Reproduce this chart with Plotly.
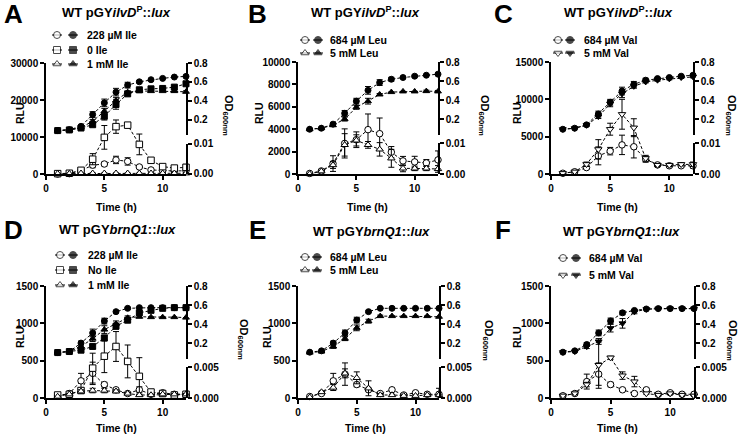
import plotly.graph_objects as go

W, H = 740, 436
FONT = "Arial, Liberation Sans, sans-serif"

time_h = [1, 2, 3, 4, 5, 6, 7, 8, 9, 10, 11, 12]

# ---- A: WT pGYilvDP::lux, isoleucine
a_rlu_228 = [0, 100, 900, 2400, 2700, 3800, 3400, 1900, 1100, 900, 800, 900]
a_rlu_228_err = [0, 0, 300, 700, 500, 1000, 1000, 300, 200, 200, 100, 300]
a_rlu_0 = [100, 200, 1000, 4000, 9900, 12800, 13200, 8000, 3700, 2000, 1600, 1800]
a_rlu_0_err = [0, 0, 300, 1500, 3200, 1800, 0, 2800, 300, 300, 400, 800]
a_rlu_1mm = [100, 100, 200, 200, 200, 200, 200, 200, 200, 200, 200, 200]
a_rlu_1mm_err = [0, 0, 0, 100, 100, 100, 0, 0, 0, 0, 0, 0]
a_od_228 = [0.088, 0.098, 0.133, 0.257, 0.380, 0.493, 0.567, 0.602, 0.624, 0.638, 0.652, 0.659]
a_od_228_err = [0, 0, 0.01, 0.03, 0.04, 0.04, 0.03, 0.01, 0, 0, 0, 0]
a_od_0 = [0.088, 0.095, 0.115, 0.150, 0.239, 0.363, 0.475, 0.518, 0.528, 0.532, 0.546, 0.581]
a_od_0_err = [0, 0, 0.01, 0.02, 0.04, 0.05, 0.02, 0.01, 0.01, 0.01, 0.01, 0]
a_od_1mm = [0.088, 0.095, 0.120, 0.186, 0.292, 0.405, 0.493, 0.504, 0.504, 0.504, 0.504, 0.497]
a_od_1mm_err = [0, 0, 0.01, 0.02, 0.03, 0.03, 0.01, 0, 0, 0, 0.01, 0.01]

# ---- B: WT pGYilvDP::lux, leucine
b_rlu_684 = [50, 270, 930, 2730, 3060, 3960, 3600, 1950, 1170, 1080, 990, 1260]
b_rlu_684_err = [0, 0, 700, 1300, 700, 1400, 1400, 500, 400, 500, 300, 800]
b_rlu_5 = [0, 250, 800, 2600, 3000, 2600, 2200, 1400, 500, 500, 500, 450]
b_rlu_5_err = [0, 0, 300, 1000, 500, 300, 600, 800, 300, 200, 200, 300]
b_od_684 = [0.098, 0.109, 0.151, 0.264, 0.391, 0.504, 0.585, 0.620, 0.638, 0.652, 0.662, 0.673]
b_od_684_err = [0, 0, 0.01, 0.03, 0.03, 0.04, 0.03, 0.02, 0.01, 0.01, 0, 0.01]
b_od_5 = [0.098, 0.109, 0.140, 0.204, 0.327, 0.391, 0.461, 0.486, 0.493, 0.493, 0.496, 0.493]
b_od_5_err = [0, 0, 0.01, 0.02, 0.02, 0.03, 0.01, 0, 0, 0, 0.01, 0.01]

# ---- C: WT pGYilvDP::lux, valine
c_rlu_684 = [100, 300, 860, 2430, 3060, 3900, 3650, 1980, 1220, 1100, 1100, 1100]
c_rlu_684_err = [0, 0, 200, 1200, 500, 1300, 1500, 400, 200, 200, 200, 300]
c_rlu_5 = [100, 300, 1300, 3300, 6000, 8000, 6200, 2100, 1200, 1200, 1300, 1300]
c_rlu_5_err = [0, 0, 300, 1300, 800, 2000, 1200, 400, 200, 200, 200, 300]
c_od_684 = [0.098, 0.109, 0.144, 0.257, 0.380, 0.497, 0.567, 0.610, 0.627, 0.638, 0.652, 0.662]
c_od_684_err = [0, 0, 0.01, 0.03, 0.03, 0.04, 0.03, 0.02, 0.01, 0.01, 0.01, 0.01]
c_od_5 = [0.098, 0.108, 0.140, 0.230, 0.363, 0.468, 0.546, 0.592, 0.610, 0.624, 0.638, 0.645]
c_od_5_err = [0, 0, 0.01, 0.02, 0.03, 0.04, 0.02, 0.01, 0.01, 0.01, 0.01, 0.01]

# ---- D: WT pGYbrnQ1::lux, isoleucine
d_rlu_228 = [30, 60, 230, 330, 180, 110, 60, 110, 50, 70, 50, 50]
d_rlu_228_err = [0, 10, 100, 150, 30, 20, 10, 40, 10, 10, 10, 10]
d_rlu_0 = [40, 50, 100, 400, 560, 690, 490, 290, 80, 60, 40, 50]
d_rlu_0_err = [0, 10, 40, 200, 220, 200, 220, 250, 30, 20, 10, 10]
d_rlu_1mm = [20, 50, 90, 100, 100, 90, 60, 40, 40, 50, 50, 50]
d_rlu_1mm_err = [0, 10, 20, 30, 30, 20, 10, 10, 10, 10, 10, 10]
d_od_228 = [0.105, 0.116, 0.204, 0.310, 0.434, 0.532, 0.567, 0.574, 0.574, 0.574, 0.574, 0.574]
d_od_228_err = [0, 0, 0.02, 0.04, 0.03, 0.01, 0.01, 0, 0, 0, 0, 0]
d_od_0 = [0.105, 0.116, 0.130, 0.169, 0.257, 0.380, 0.443, 0.520, 0.546, 0.567, 0.574, 0.574]
d_od_0_err = [0, 0, 0.01, 0.02, 0.03, 0.03, 0.02, 0.01, 0.01, 0, 0, 0]
d_od_1mm = [0.105, 0.116, 0.169, 0.250, 0.345, 0.405, 0.468, 0.479, 0.475, 0.475, 0.475, 0.470]
d_od_1mm_err = [0, 0, 0.02, 0.03, 0.04, 0.03, 0.02, 0.01, 0, 0, 0, 0]

# ---- E: WT pGYbrnQ1::lux, leucine
e_rlu_684 = [20, 60, 230, 320, 180, 110, 60, 110, 40, 70, 50, 50]
e_rlu_684_err = [0, 10, 100, 150, 30, 20, 10, 20, 10, 10, 10, 10]
e_rlu_5 = [10, 80, 140, 330, 270, 130, 40, 40, 30, 30, 40, 40]
e_rlu_5_err = [0, 10, 40, 60, 80, 100, 20, 10, 10, 10, 10, 90]
e_od_684 = [0.109, 0.123, 0.204, 0.310, 0.444, 0.532, 0.567, 0.567, 0.567, 0.567, 0.567, 0.567]
e_od_684_err = [0, 0, 0.02, 0.03, 0.03, 0.01, 0, 0, 0, 0, 0, 0]
e_od_5 = [0.105, 0.116, 0.169, 0.250, 0.363, 0.433, 0.486, 0.486, 0.486, 0.486, 0.486, 0.479]
e_od_5_err = [0, 0, 0.02, 0.02, 0.03, 0.02, 0.01, 0, 0, 0, 0, 0]

# ---- F: WT pGYbrnQ1::lux, valine
f_rlu_684 = [30, 60, 220, 320, 180, 110, 60, 110, 50, 70, 50, 50]
f_rlu_684_err = [0, 10, 100, 150, 30, 20, 10, 20, 10, 10, 10, 10]
f_rlu_5 = [30, 60, 180, 440, 540, 300, 220, 60, 40, 60, 40, 30]
f_rlu_5_err = [0, 10, 30, 310, 20, 50, 70, 10, 10, 10, 10, 10]
f_od_684 = [0.109, 0.123, 0.189, 0.310, 0.435, 0.520, 0.545, 0.560, 0.564, 0.564, 0.564, 0.564]
f_od_684_err = [0, 0, 0.02, 0.03, 0.03, 0.02, 0.01, 0, 0, 0, 0, 0]
f_od_5 = [0.109, 0.116, 0.167, 0.221, 0.360, 0.410, 0.530, 0.557, 0.564, 0.564, 0.564, 0.564]
f_od_5_err = [0, 0, 0.02, 0.03, 0.04, 0.05, 0.02, 0, 0, 0, 0, 0]

TITLE_ILVD = "<b>WT pGY<i>ilvD</i><sup>P</sup>::<i>lux</i></b>"
TITLE_BRNQ = "<b>WT pGY<i>brnQ1</i>::<i>lux</i></b>"

panels = [
    dict(letter="A", box=(46, 63, 186, 174), title=TITLE_ILVD,
         rlu_ticks=[0, 10000, 20000, 30000], od_low=0.01, low_text=["0.00", "0.01"],
         series=[("228 µM Ile", "circle", a_rlu_228, a_rlu_228_err, a_od_228, a_od_228_err),
                 ("0 Ile", "square", a_rlu_0, a_rlu_0_err, a_od_0, a_od_0_err),
                 ("1 mM Ile", "triangle-up", a_rlu_1mm, a_rlu_1mm_err, a_od_1mm, a_od_1mm_err)],
         leg=([35, 50, 64], 57, 73, 85), letter_xy=(13, 14), title_xy=(116, 12),
         rlu_xy=(20, 113), od_xy=(228, 115), time_xy=(116, 207)),
    dict(letter="B", box=(298, 62, 438, 174), title=TITLE_ILVD,
         rlu_ticks=[0, 2000, 4000, 6000, 8000, 10000], od_low=0.01, low_text=["0.00", "0.01"],
         series=[("684 µM Leu", "circle", b_rlu_684, b_rlu_684_err, b_od_684, b_od_684_err),
                 ("5 mM Leu", "triangle-up", b_rlu_5, b_rlu_5_err, b_od_5, b_od_5_err)],
         leg=([40, 53], 305, 318, 328), letter_xy=(257, 14), title_xy=(365, 12),
         rlu_xy=(259, 113), od_xy=(484, 115), time_xy=(367, 207)),
    dict(letter="C", box=(551, 62, 693, 174), title=TITLE_ILVD,
         rlu_ticks=[0, 5000, 10000, 15000], od_low=0.01, low_text=["0.00", "0.01"],
         series=[("684 µM Val", "circle", c_rlu_684, c_rlu_684_err, c_od_684, c_od_684_err),
                 ("5 mM Val", "triangle-down", c_rlu_5, c_rlu_5_err, c_od_5, c_od_5_err)],
         leg=([40, 53], 558, 570, 582), letter_xy=(503, 14), title_xy=(618, 12),
         rlu_xy=(517, 113), od_xy=(731, 115), time_xy=(617, 207)),
    dict(letter="D", box=(46, 286, 186, 398), title=TITLE_BRNQ,
         rlu_ticks=[0, 500, 1000, 1500], od_low=0.005, low_text=["0.000", "0.005"],
         series=[("228 µM Ile", "circle", d_rlu_228, d_rlu_228_err, d_od_228, d_od_228_err),
                 ("No Ile", "square", d_rlu_0, d_rlu_0_err, d_od_0, d_od_0_err),
                 ("1 mM Ile", "triangle-up", d_rlu_1mm, d_rlu_1mm_err, d_od_1mm, d_od_1mm_err)],
         leg=([255, 270, 285], 60, 73, 86), letter_xy=(13, 230), title_xy=(117, 230),
         rlu_xy=(20, 337), od_xy=(243, 340), time_xy=(116, 428)),
    dict(letter="E", box=(298, 286, 439, 398), title=TITLE_BRNQ,
         rlu_ticks=[0, 500, 1000, 1500], od_low=0.005, low_text=["0.000", "0.005"],
         series=[("684 µM Leu", "circle", e_rlu_684, e_rlu_684_err, e_od_684, e_od_684_err),
                 ("5 mM Leu", "triangle-up", e_rlu_5, e_rlu_5_err, e_od_5, e_od_5_err)],
         leg=([257, 270], 305, 317, 328), letter_xy=(257, 230), title_xy=(371, 231),
         rlu_xy=(267, 337), od_xy=(488, 340), time_xy=(365, 428)),
    dict(letter="F", box=(551, 286, 694, 398), title=TITLE_BRNQ,
         rlu_ticks=[0, 500, 1000, 1500], od_low=0.005, low_text=["0.000", "0.005"],
         series=[("684 µM Val", "circle", f_rlu_684, f_rlu_684_err, f_od_684, f_od_684_err),
                 ("5 mM Val", "triangle-down", f_rlu_5, f_rlu_5_err, f_od_5, f_od_5_err)],
         leg=([258, 275], 563, 576, 587), letter_xy=(503, 230), title_xy=(621, 231),
         rlu_xy=(517, 337), od_xy=(732, 340), time_xy=(617, 428)),
]

OD_UP_RANGE = [0.04, 0.8]
OD_UP_TICKS = [0.2, 0.4, 0.6, 0.8]
UP_FRAC = 0.35     # upper OD segment starts here (fraction of plot height)
LOW_FRAC = 0.273   # lower OD segment ends here


def ref(letter, n):
    return letter if n == 1 else f"{letter}{n}"


def key(letter, n):
    return f"{letter}axis" if n == 1 else f"{letter}axis{n}"


tick_font = dict(family=FONT, size=10, color="black", weight="bold")
axis_common = dict(showline=True, linecolor="black", linewidth=1.5, ticks="outside",
                   tickcolor="black", tickwidth=1.5, ticklen=4, showgrid=False,
                   zeroline=False, tickfont=tick_font, automargin=False, fixedrange=True)

fig = go.Figure()
layout = {}
annotations = []


def px_ann(x, y, text, size, angle=0, xanchor="center"):
    annotations.append(dict(x=x / W, y=1 - y / H, xref="paper", yref="paper", text=text,
                            showarrow=False, textangle=angle, xanchor=xanchor, yanchor="middle",
                            font=dict(family=FONT, size=size, color="black")))


for i, p in enumerate(panels):
    xn, yl, yu, yd = i + 1, 3 * i + 1, 3 * i + 2, 3 * i + 3
    left, top, right, bottom = p["box"]
    y0, y1 = 1 - bottom / H, 1 - top / H
    h = y1 - y0

    layout[key("x", xn)] = dict(axis_common, domain=[left / W, right / W], range=[0, 12],
                                tickvals=[0, 5, 10], anchor=ref("y", yl))
    layout[key("y", yl)] = dict(axis_common, domain=[y0, y1],
                                range=[0, p["rlu_ticks"][-1]], tickvals=p["rlu_ticks"],
                                ticktext=[str(v) for v in p["rlu_ticks"]],
                                anchor=ref("x", xn))
    layout[key("y", yu)] = dict(axis_common, domain=[y0 + UP_FRAC * h, y1], range=OD_UP_RANGE,
                                tickvals=OD_UP_TICKS,
                                ticktext=[f"{v:.1f}" for v in OD_UP_TICKS],
                                side="right", anchor=ref("x", xn))
    layout[key("y", yd)] = dict(axis_common, domain=[y0, y0 + LOW_FRAC * h],
                                range=[0, p["od_low"]], tickvals=[0, p["od_low"]],
                                ticktext=p["low_text"], side="right", anchor=ref("x", xn))

    # OD (filled symbols) on the broken right axis
    for name, sym, rlu, rlu_err, od, od_err in p["series"]:
        fig.add_trace(go.Scatter(
            x=time_h, y=od, mode="lines+markers", name=name + " OD", showlegend=False,
            xaxis=ref("x", xn), yaxis=ref("y", yu), cliponaxis=False,
            line=dict(color="black", width=1, dash="3px,2px"),
            marker=dict(symbol=sym, size=6, color="black", line=dict(color="black", width=1)),
            error_y=dict(type="data", array=od_err, color="black", thickness=1, width=3)))
    # RLU (open symbols) on the left axis
    for name, sym, rlu, rlu_err, od, od_err in p["series"]:
        fig.add_trace(go.Scatter(
            x=time_h, y=rlu, mode="lines+markers", name=name + " RLU", showlegend=False,
            xaxis=ref("x", xn), yaxis=ref("y", yl), cliponaxis=False,
            line=dict(color="black", width=1, dash="3px,2px"),
            marker=dict(symbol=sym, size=6.5, color="white", line=dict(color="black", width=1)),
            error_y=dict(type="data", array=rlu_err, color="black", thickness=1, width=3)))
    # empty trace so the lower OD segment is drawn
    fig.add_trace(go.Scatter(x=[], y=[], xaxis=ref("x", xn), yaxis=ref("y", yd),
                             showlegend=False))

    # text
    px_ann(*p["letter_xy"], f"<b>{p['letter']}</b>", 26)
    px_ann(*p["title_xy"], p["title"], 13)
    px_ann(*p["rlu_xy"], "<b>RLU</b>", 10.5, angle=-90)
    px_ann(*p["od_xy"], "<b>OD<sub>600nm</sub></b>", 11, angle=90)
    px_ann(*p["time_xy"], "<b>Time (h)</b>", 10.5)

    # legend: open + filled glyphs, then label
    ys, xo, xf, xt = p["leg"]
    for (name, sym, *_), ly in zip(p["series"], ys):
        for gx, fill in ((xo, "white"), (xf, "black")):
            fig.add_trace(go.Scatter(
                x=[gx - 5, gx, gx + 5], y=[ly, ly, ly], mode="lines+markers",
                xaxis="x7", yaxis="y19", showlegend=False, hoverinfo="skip",
                line=dict(color="black", width=1),
                marker=dict(symbol=sym, size=[0, 7, 0], color=fill,
                            line=dict(color="black", width=1))))
        px_ann(xt, ly, f"<b>{name}</b>", 10.5, xanchor="left")

# overlay axes in pixel units used only to place legend glyphs
layout["xaxis7"] = dict(domain=[0, 1], range=[0, W], visible=False, anchor="y19", fixedrange=True)
layout["yaxis19"] = dict(domain=[0, 1], range=[H, 0], visible=False, anchor="x7", fixedrange=True)

fig.update_layout(**layout)
fig.update_layout(
    width=W, height=H, margin=dict(l=0, r=0, t=0, b=0),
    paper_bgcolor="white", plot_bgcolor="rgba(0,0,0,0)",
    showlegend=False, annotations=annotations,
    font=dict(family=FONT, color="black"),
)

# remove the default page margin so the figure sits at the window's corner
fig.write_html("out.html", config={"displayModeBar": False},
               post_script="document.body.style.margin='0px';")
